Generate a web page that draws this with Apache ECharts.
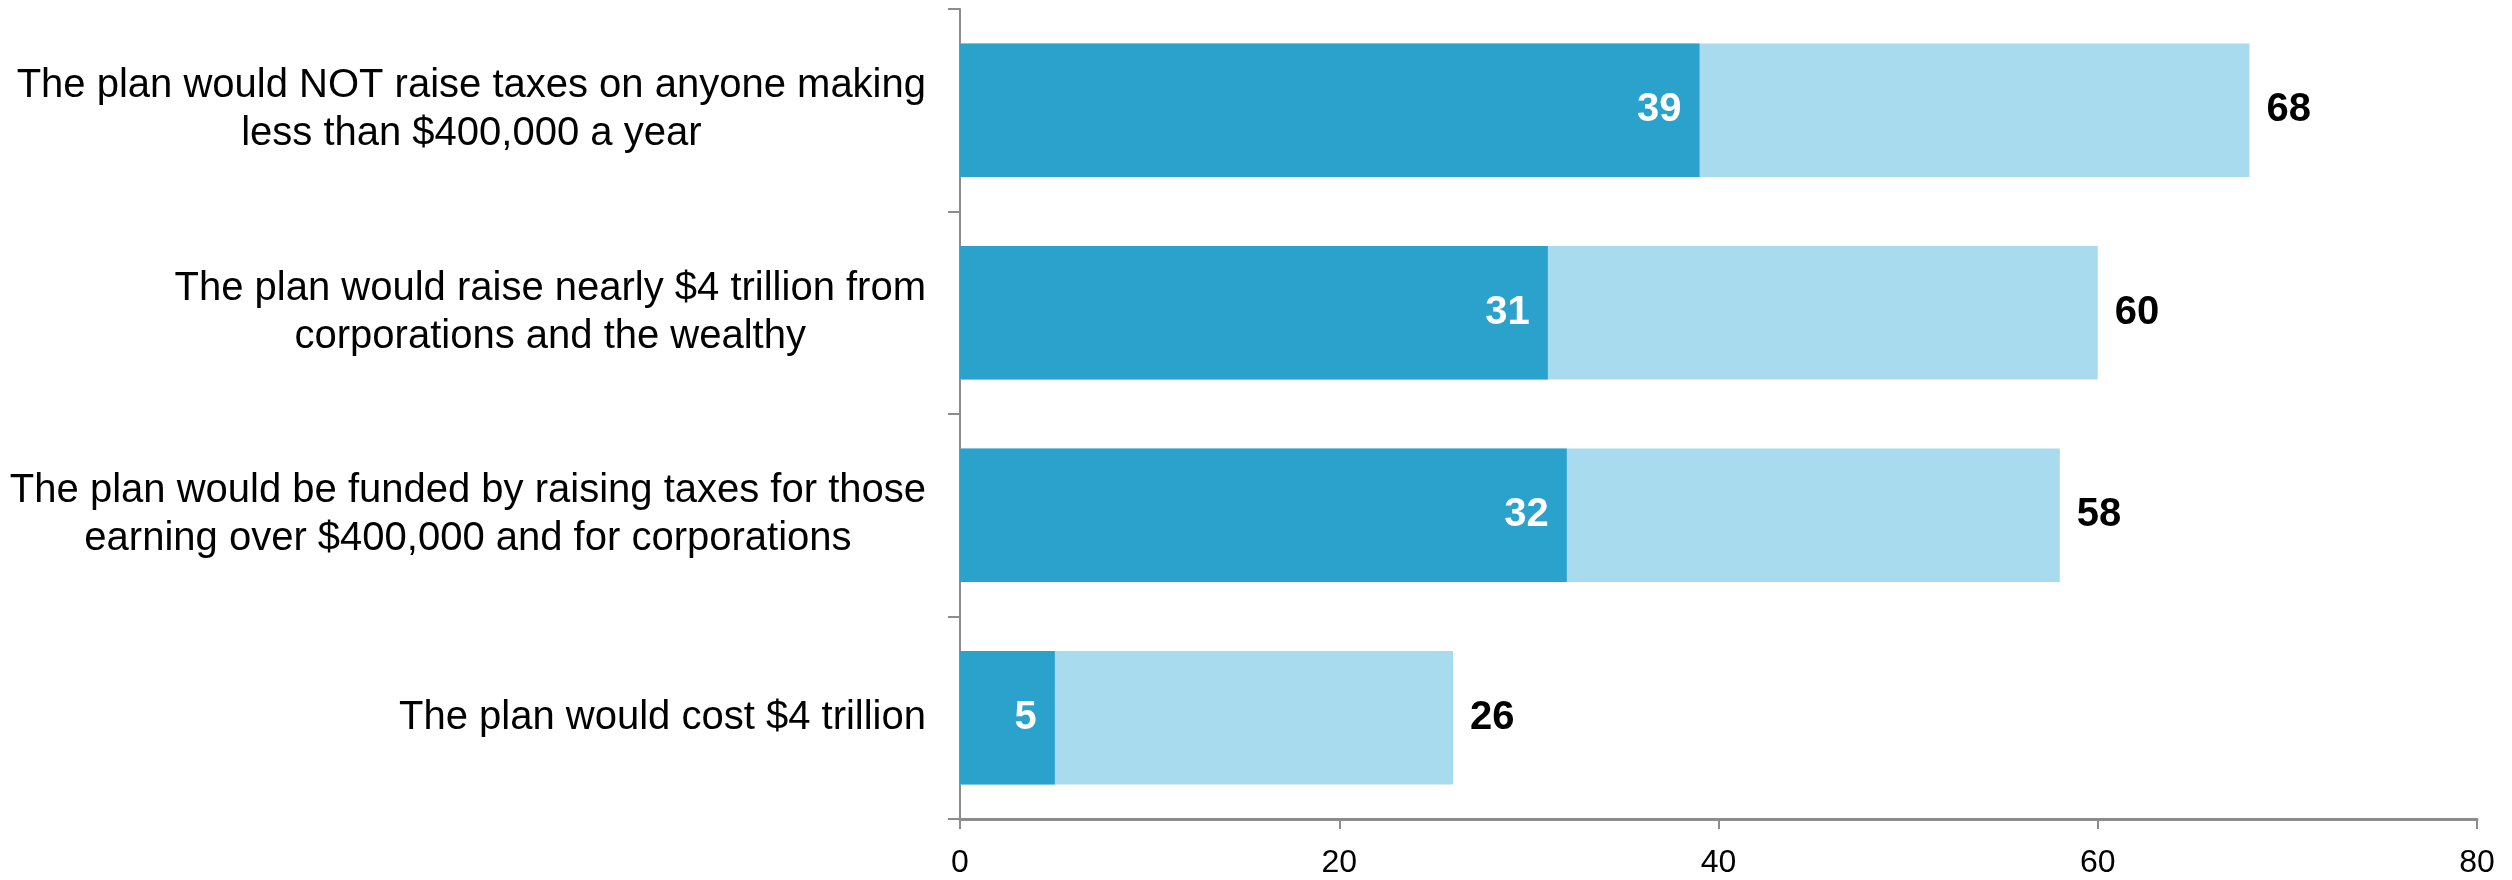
<!DOCTYPE html>
<html>
<head>
<meta charset="utf-8">
<title>Plan statements</title>
<script src="https://cdn.jsdelivr.net/npm/echarts@6/dist/echarts.min.js"></script>
<style>
  html, body { margin: 0; padding: 0; background: #ffffff; }
  #chart { width: 2512px; height: 880px; }
</style>
</head>
<body>
<div id="chart"></div>
<script>
// Statements about the plan, top to bottom
const categories = [
  'The plan would NOT raise taxes on anyone making\nless than $400,000 a year',
  'The plan would raise nearly $4 trillion from\ncorporations and the wealthy',
  'The plan would be funded by raising taxes for those\nearning over $400,000 and for corporations',
  'The plan would cost $4 trillion'
];
// Dark segment (strong share) and full bar (total share)
const strongValues = [39, 31, 32, 5];
const totalValues = [68, 60, 58, 26];
// Value axis ticks
const axisMin = 0;
const axisMax = 80;
const axisStep = 20;

const FONT = '"Liberation Sans", Arial, sans-serif';
const AXIS_GREY = '#8c8c8c';

const chart = echarts.init(document.getElementById('chart'), null, { renderer: 'canvas' });

chart.setOption({
  animation: false,
  backgroundColor: '#ffffff',
  textStyle: { fontFamily: FONT },
  grid: { left: 960, right: 35, top: 9, bottom: 61, containLabel: false },
  xAxis: {
    type: 'value',
    min: axisMin,
    max: axisMax,
    interval: axisStep,
    axisLine: { show: true, lineStyle: { color: AXIS_GREY, width: 3 } },
    axisTick: { show: true, length: 10, lineStyle: { color: AXIS_GREY, width: 2 } },
    splitLine: { show: false },
    axisLabel: { fontSize: 32, color: '#000000', fontFamily: FONT, margin: 28 }
  },
  yAxis: {
    type: 'category',
    data: categories,
    inverse: true,
    axisLine: { show: true, lineStyle: { color: AXIS_GREY, width: 2 } },
    axisTick: { show: true, length: 12, lineStyle: { color: AXIS_GREY, width: 2 } },
    splitLine: { show: false },
    axisLabel: {
      margin: 34,
      color: '#000000',
      fontFamily: FONT,
      fontSize: 40,
      formatter: function (v) {
        return v.split('\n').map(function (line) { return '{c|' + line + '}'; }).join('\n');
      },
      rich: {
        c: { align: 'center', fontSize: 40, lineHeight: 48, color: '#000000', fontFamily: FONT }
      }
    }
  },
  series: [
    {
      name: 'Total',
      type: 'bar',
      data: totalValues,
      barCategoryGap: '34%',
      barGap: '-100%',
      itemStyle: { color: '#a8dbed' },
      label: {
        show: true,
        position: 'right',
        distance: 17,
        color: '#000000',
        fontWeight: 'bold',
        fontSize: 40,
        fontFamily: FONT
      },
      z: 2
    },
    {
      name: 'Strong',
      type: 'bar',
      data: strongValues,
      barCategoryGap: '34%',
      barGap: '-100%',
      itemStyle: { color: '#2aa2cc' },
      label: {
        show: true,
        position: 'insideRight',
        distance: 18,
        color: '#ffffff',
        fontWeight: 'bold',
        fontSize: 40,
        fontFamily: FONT
      },
      z: 3
    }
  ]
});
</script>
</body>
</html>
